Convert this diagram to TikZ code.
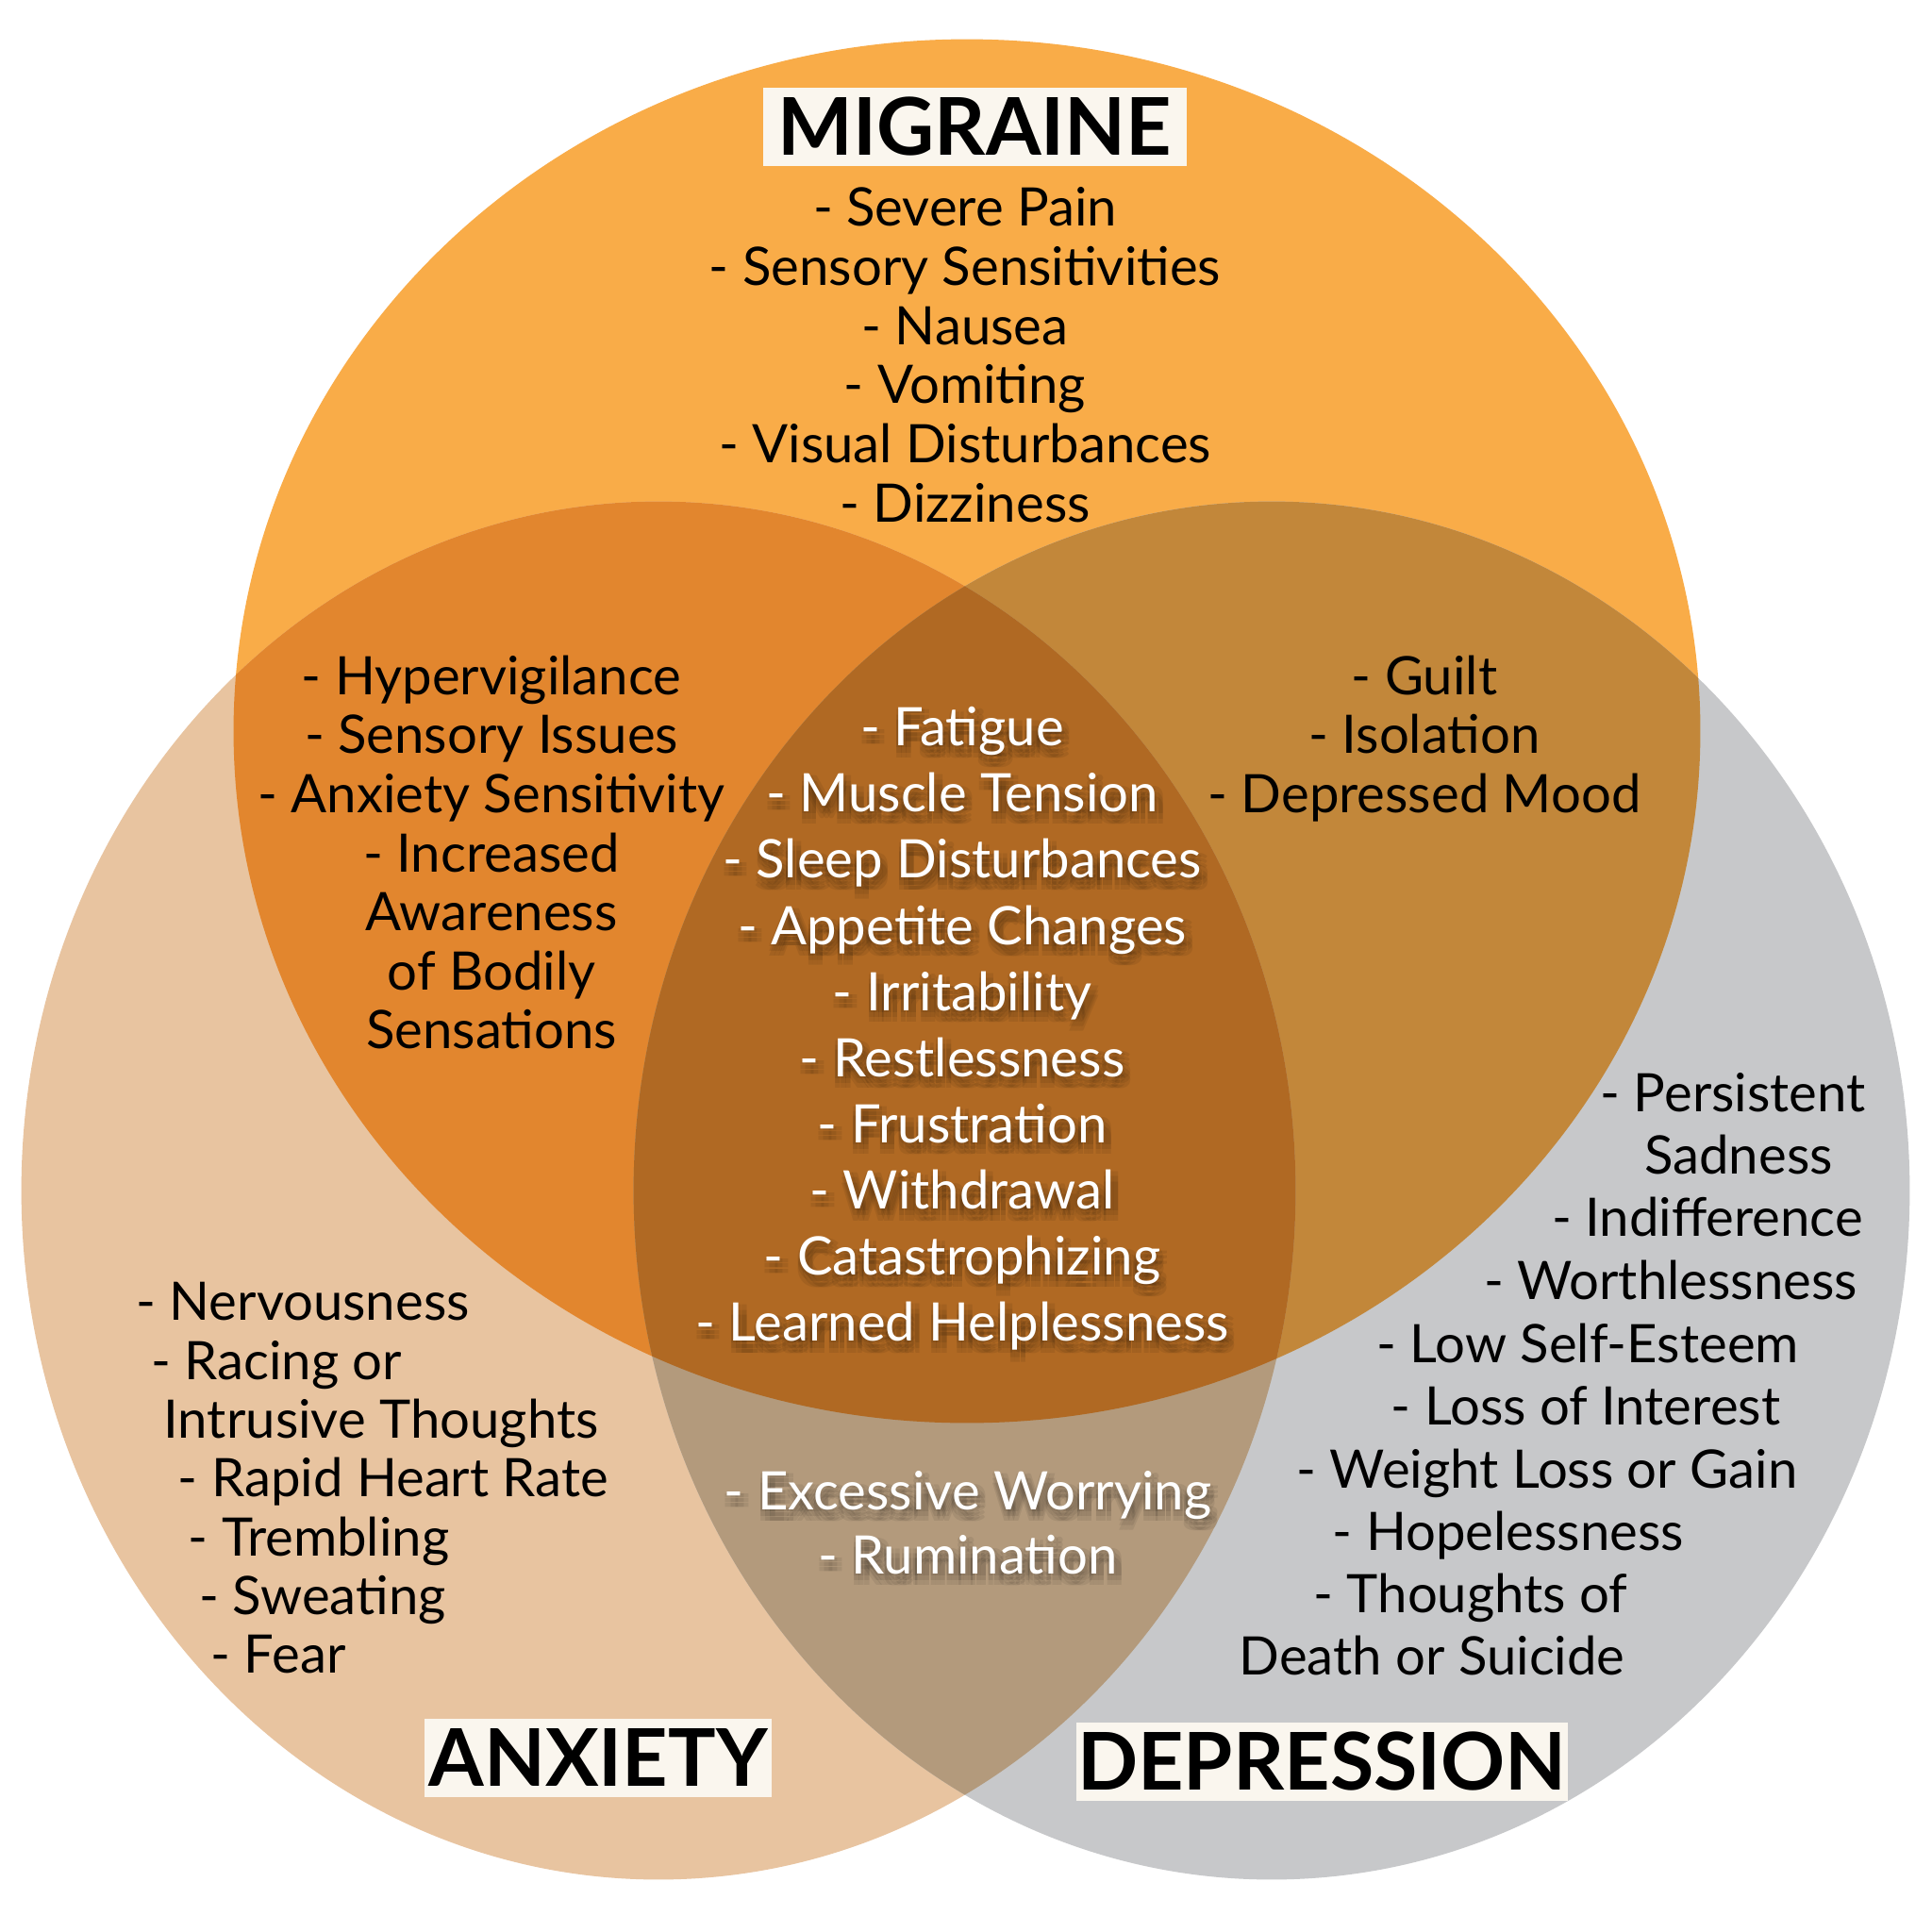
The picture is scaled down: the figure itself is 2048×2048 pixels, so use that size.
\documentclass[tikz,border=0pt]{standalone}
\usepackage{fontspec}
\setmainfont{Lato}
\definecolor{migC}{HTML}{F9AC48}
\definecolor{anxC}{HTML}{E8C4A0}
\definecolor{depC}{HTML}{C7C8CA}
\definecolor{maC}{HTML}{E2862E}
\definecolor{mdC}{HTML}{C2873A}
\definecolor{adC}{HTML}{B39A7C}
\definecolor{allC}{HTML}{B06923}
\definecolor{boxC}{HTML}{FAF6EE}
\def\MigPath{(1025,775) ellipse [x radius=7.77cm, y radius=7.33cm]}
\def\AnxPath{(698,1262) ellipse [x radius=6.75cm, y radius=7.30cm]}
\def\DepPath{(1348,1262) ellipse [x radius=6.76cm, y radius=7.30cm]}
% white text line with a soft dark drop shadow
\newcommand{\wline}[4]{%
  \foreach \sx/\sy in {-0.6/-0.6, 0.9/-0.6, 2.4/-0.6, -0.6/-2.1, 0.9/-2.1, 2.4/-2.1, -0.6/-3.6, 0.9/-3.6, 2.4/-3.6}
    {\node[txt, text=black, text opacity=0.07, xshift=\sx pt, yshift=\sy pt] at ({#2},{#3}) {#4};}
  \node[txt, text=white] (#1) at ({#2},{#3}) {#4};}
\begin{document}
\begin{tikzpicture}[x=0.01cm,y=-0.01cm,
  txt/.style={inner sep=0pt, font=\fontsize{16}{18}\selectfont, text height=11.5pt, text depth=0pt},
  title/.style={fill=boxC, inner sep=0pt, font=\fontsize{24}{28}\selectfont\bfseries, text height=17.2pt, text depth=0pt, minimum height=0.83cm}]
\useasboundingbox (0,0) rectangle (2048,2048);
\fill[white] (0,0) rectangle (2048,2048);
% regions
\fill[migC] \MigPath;
\fill[anxC] \AnxPath;
\fill[depC] \DepPath;
\begin{scope}\clip \MigPath; \fill[maC] \AnxPath; \fill[mdC] \DepPath; \end{scope}
\begin{scope}\clip \AnxPath; \fill[adC] \DepPath; \end{scope}
\begin{scope}\clip \MigPath; \clip \AnxPath; \fill[allC] \DepPath; \end{scope}
% titles
\node[title, minimum width=4.49cm] (migT) at (1033.5,134.5) {MIGRAINE};
\node[title, minimum width=3.68cm] (anxT) at (634,1863.5) {ANXIETY};
\node[title, minimum width=5.21cm] (depT) at (1401.5,1867) {DEPRESSION};
% migraine only
\foreach \t [count=\i] in {- Severe Pain, - Sensory Sensitivities, - Nausea, - Vomiting, - Visual Disturbances, - Dizziness}
  {\node[txt] (mig\i) at (1023,{219.4+62.7*(\i-1)}) {\t};}
% migraine & anxiety
\foreach \t [count=\i] in {- Hypervigilance, - Sensory Issues, - Anxiety Sensitivity, - Increased, Awareness, of Bodily, Sensations}
  {\node[txt] (ma\i) at (521,{716+62.6*(\i-1)}) {\t};}
% migraine & depression
\foreach \t [count=\i] in {- Guilt, - Isolation, - Depressed Mood}
  {\node[txt] (md\i) at (1510,{716+62.6*(\i-1)}) {\t};}
% all three
\foreach \t [count=\i] in {- Fatigue, - Muscle Tension, - Sleep Disturbances, - Appetite Changes, - Irritability, - Restlessness, - Frustration, - Withdrawal, - Catastrophizing, - Learned Helplessness}
  {\wline{all\i}{1020}{770.5+70.1*(\i-1)}{\t}}
% anxiety & depression
\foreach \t [count=\i] in {- Excessive Worrying, - Rumination}
  {\wline{ad\i}{1026}{1580+68*(\i-1)}{\t}}
% anxiety only
\foreach \x/\y/\t [count=\i] in {321/1379/{- Nervousness}, 293/1442/{- Racing or}, 404/1504/{Intrusive Thoughts}, 417/1566/{- Rapid Heart Rate}, 338/1629/{- Trembling}, 342/1691/{- Sweating}, 295/1753/{- Fear}}
  {\node[txt] (anx\i) at (\x,\y) {\t};}
% depression only
\foreach \x/\y/\t [count=\i] in {1837/1158/{- Persistent}, 1843/1224/{Sadness}, 1810/1290/{- Indifference}, 1771/1357/{- Worthlessness}, 1683/1424/{- Low Self-Esteem}, 1681/1490/{- Loss of Interest}, 1640/1557/{- Weight Loss or Gain}, 1599/1623/{- Hopelessness}, 1559/1689/{- Thoughts of}, 1518/1755/{Death or Suicide}}
  {\node[txt] (dep\i) at (\x,\y) {\t};}
\end{tikzpicture}
\end{document}
